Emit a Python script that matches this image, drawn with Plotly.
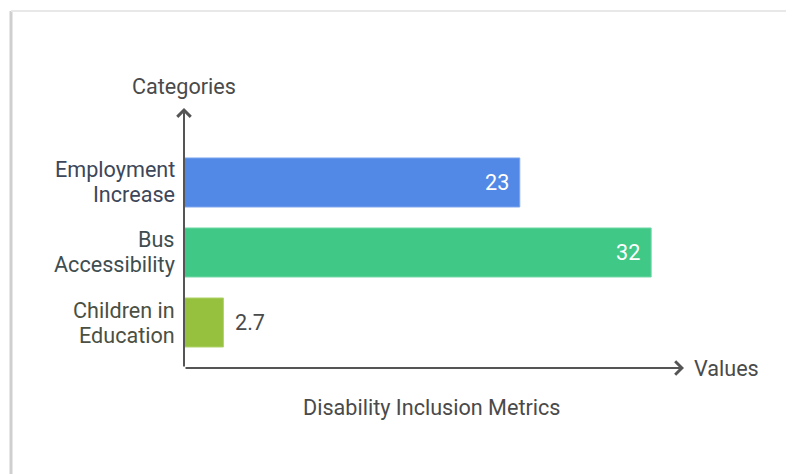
import plotly.graph_objects as go

# ---- data ----
categories = ["Children in<br>Education", "Bus<br>Accessibility", "Employment<br>Increase"]
values = [2.7, 32, 23]
value_labels = ["2.7", "32", "23"]
bar_colors = ["#96C13E", "#40C887", "#5289E6"]
bar_edge_colors = ["#b0d46a", "#6fd8a5", "#7ea6ee"]
label_colors = ["#4b5042", "#3e4e50", "#3d4759"]
x_title = "Disability Inclusion Metrics"
x_arrow_label = "Values"
y_arrow_label = "Categories"

FONT = "Roboto, Arial, sans-serif"
FS = 21.6
TXT = "#4a4a4a"
AX = "#555555"

fig = go.Figure()
fig.add_trace(go.Bar(
    y=categories, x=values, orientation="h",
    marker=dict(color=bar_colors, line=dict(color=bar_edge_colors, width=1)),
    width=0.7, hoverinfo="skip",
))

annotations = []
vmax = max(values)
for cat, v, lab, lc in zip(categories, values, value_labels, label_colors):
    inside = v > 0.2 * vmax
    annotations.append(dict(
        x=v, y=cat, xref="x", yref="y", text=lab, showarrow=False,
        xanchor="right" if inside else "left",
        xshift=-9 if inside else 10,
        font=dict(family=FONT, size=FS, color="#ffffff" if inside else TXT),
    ))
    # category label, one annotation per line (tighter line spacing)
    lines = cat.split("<br>")
    n = len(lines)
    for i, ln in enumerate(lines):
        annotations.append(dict(
            x=0, y=cat, xref="paper", yref="y", text=ln, showarrow=False,
            xanchor="right", yanchor="middle", xshift=-7,
            yshift=((n - 1) / 2 - i) * 25,
            font=dict(family=FONT, size=FS, color=lc),
        ))

# axis arrows
annotations.append(dict(x=1, y=0, xref="paper", yref="paper", ax=-500, ay=0,
                        axref="pixel", ayref="pixel", text="", showarrow=True,
                        arrowhead=4, arrowsize=1.3, arrowwidth=2, arrowcolor=AX))
annotations.append(dict(x=0, y=1, xref="paper", yref="paper", ax=0, ay=260,
                        axref="pixel", ayref="pixel", text="", showarrow=True,
                        arrowhead=4, arrowsize=1.3, arrowwidth=2, arrowcolor=AX))
annotations.append(dict(x=0, y=1.081, xref="paper", yref="paper", text=y_arrow_label,
                        showarrow=False, xanchor="center", yanchor="middle",
                        font=dict(family=FONT, size=FS, color=TXT)))
annotations.append(dict(x=1, y=0, xref="paper", yref="paper", text=x_arrow_label,
                        showarrow=False, xanchor="left", yanchor="middle", xshift=8,
                        font=dict(family=FONT, size=FS, color=TXT)))
annotations.append(dict(x=0.494, y=-0.15, xref="paper", yref="paper", text=x_title,
                        showarrow=False, xanchor="center", yanchor="middle",
                        font=dict(family=FONT, size=FS, color=TXT)))

shapes = [
    dict(type="line", xref="paper", yref="paper", x0=-0.346, x1=-0.346, y0=1.373, y1=-0.45,
         line=dict(color="#cfcfcf", width=3), layer="below"),
    dict(type="line", xref="paper", yref="paper", x0=-0.346, x1=1.25, y0=1.373, y1=1.373,
         line=dict(color="#e8e8e8", width=2), layer="below"),
]

fig.update_layout(
    width=794, height=474,
    margin=dict(l=176, r=118, t=100, b=114, pad=0),
    paper_bgcolor="white", plot_bgcolor="white",
    showlegend=False,
    annotations=annotations, shapes=shapes,
    xaxis=dict(range=[0, 34.25], showgrid=False, zeroline=False, showline=False,
               showticklabels=False, ticks="", fixedrange=True),
    yaxis=dict(range=[-0.65, 3.064], showgrid=False, zeroline=False, showline=False,
               showticklabels=False, ticks="", fixedrange=True),
    font=dict(family=FONT, color=TXT),
)

fig.write_html("out.html")
